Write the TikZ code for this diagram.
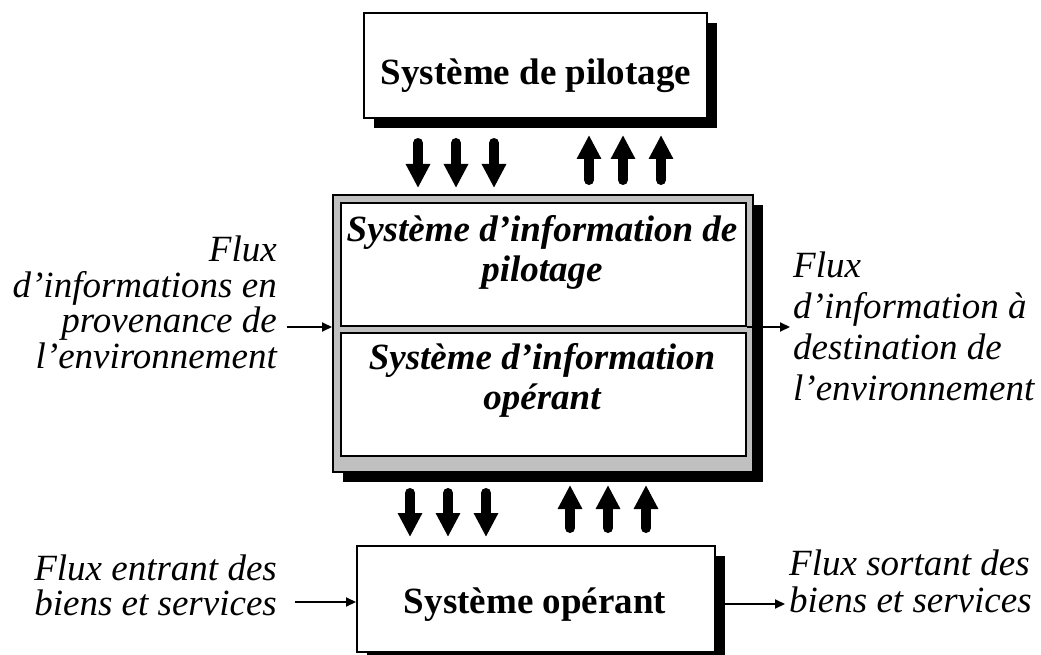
\documentclass[tikz,border=0pt]{standalone}
\usepackage{fontspec}
\setmainfont{Liberation Serif}
\usetikzlibrary{arrows.meta,shadows}
\definecolor{panelgray}{RGB}{192,192,192}
\begin{document}
\begin{tikzpicture}[x=1pt,y=-1pt,
  box/.style={draw=black, line width=2pt, fill=white, inner sep=0pt},
  shadowbox/.style={box, drop shadow={shadow xshift=10pt, shadow yshift=-10pt, fill=black, opacity=1}},
  boldtxt/.style={font=\fontsize{37}{38}\selectfont\bfseries, inner sep=0pt},
  bitxt/.style={font=\fontsize{37}{39.5}\selectfont\bfseries\itshape, align=center, inner sep=0pt},
  sidetxt/.style={font=\fontsize{37}{35.5}\selectfont\itshape, inner sep=0pt},
  bigarrow/.style={line width=10pt, line cap=round, -{Triangle[width=23pt, length=24pt]}},
  flow/.style={line width=2pt, -{Triangle[width=9pt, length=10pt]}}]
\useasboundingbox (0,0) rectangle (1041,655);
\begin{scope}
\clip (0,0) rectangle (1041,655);
% boxes
\node[shadowbox, minimum width=343pt, minimum height=105pt] (pilot) at (535.5,65.5) {};
\node[boldtxt, anchor=base] (pilotT) at (536,85) {Système de pilotage};

\node[shadowbox, fill=panelgray, minimum width=420pt, minimum height=277pt] (sis) at (543,333.5) {};
\node[box, minimum width=405pt, minimum height=123pt] (sip) at (543.5,264.5) {};
\node[box, minimum width=405pt, minimum height=123pt] (sio) at (543.5,394.5) {};
\node[bitxt, anchor=base] (sipT) at (542,281) {Système d’information de\\pilotage};
\node[bitxt, anchor=base] (sioT) at (542,409) {Système d’information\\opérant};

\node[shadowbox, minimum width=358pt, minimum height=106pt] (opr) at (536,599) {};
\node[boldtxt, anchor=base] (oprT) at (535,613) {Système opérant};

% big arrows
\foreach \x in {418,456,494} \draw[bigarrow] (\x,143) -- (\x,188);
\foreach \x in {589,623,661} \draw[bigarrow] (\x,180) -- (\x,135);
\foreach \x in {410,448,486} \draw[bigarrow] (\x,493) -- (\x,537);
\foreach \x in {570,608,646} \draw[bigarrow] (\x,528) -- (\x,485);

% side texts
\node[sidetxt, align=right, anchor=base east] (envIn) at (277,368) {Flux\\d’informations en\\provenance de\\l’environnement};
\node[sidetxt, align=left, anchor=base west, font=\fontsize{37}{41}\selectfont\itshape] (envOut) at (793,400) {Flux\\d’information à\\destination de\\l’environnement};
\node[sidetxt, align=right, anchor=base east, font=\fontsize{37}{35}\selectfont\itshape] (bsIn) at (277,615) {Flux entrant des\\biens et services};
\node[sidetxt, align=left, anchor=base west, font=\fontsize{37}{37}\selectfont\itshape] (bsOut) at (789,612) {Flux sortant des\\biens et services};

% thin connectors
\coordinate (inL) at (287,327);
\coordinate (outR) at (790,327);
\coordinate (inB) at (295,602);
\coordinate (outB) at (785,604);
\draw[flow] (inL) -- (sis.west |- inL);
\draw[flow] (sip.east |- outR) -- (outR);
\draw[flow] (inB) -- (opr.west |- inB);
\draw[flow] (opr.east |- outB) -- (outB);
\end{scope}
\end{tikzpicture}
\end{document}
